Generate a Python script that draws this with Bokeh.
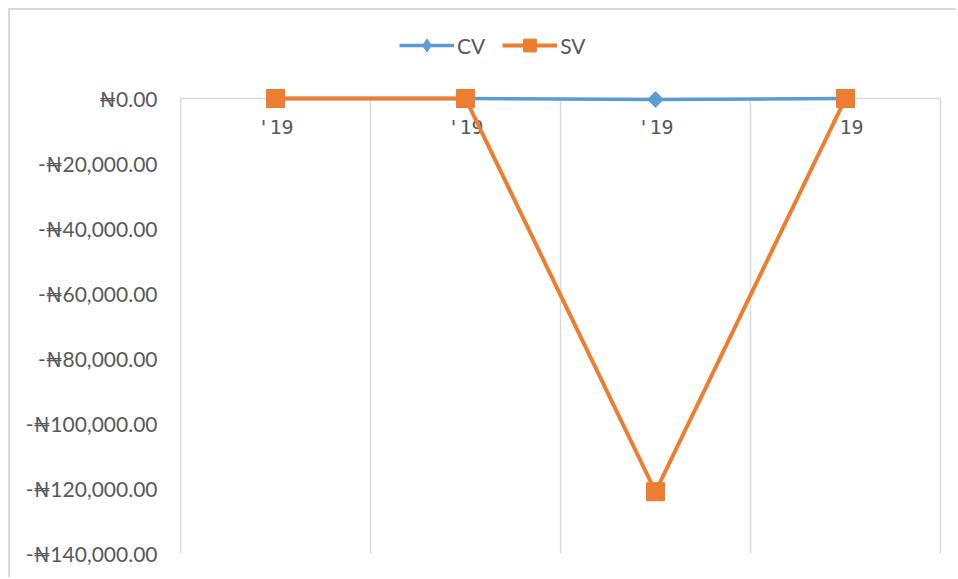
import numpy as np
from bokeh.plotting import figure
from bokeh.models import (FixedTicker, Legend, LegendItem, Range1d, ColumnDataSource)
from bokeh.embed import file_html
from bokeh.resources import INLINE

# ---- data ----
categories = ["'19", "'19", "'19", "'19"]
cv_values = [0, 0, -300, 0]
sv_values = [0, 0, -121000, 0]
y_tick_values = [0, -20000, -40000, -60000, -80000, -100000, -120000, -140000]
y_tick_labels = ["₦0.00", "-₦20,000.00", "-₦40,000.00", "-₦60,000.00",
                 "-₦80,000.00", "-₦100,000.00", "-₦120,000.00", "-₦140,000.00"]

# ---- layout ----
OFF = 10                      # chart-area border offset (margin + border)
W, H = 958 - OFF, 579 - OFF
zero_px, bottom_px = 98 - OFF, 553 - OFF
frame_top = 20 - OFF
pad_px = zero_px - frame_top
y_min = y_tick_values[-1]
y_max = (0 - y_min) * pad_px / (bottom_px - zero_px)
n = len(categories)
unit_px = 760 / n
x_pad = 1 / unit_px

TEXT = "#595959"
GRID = "#d9d9d9"
BLUE = "#5B9BD5"
ORANGE = "#ED7D31"

xs = [i + 0.5 for i in range(n)]
src = ColumnDataSource(dict(x=xs, cv=cv_values, sv=sv_values))

p = figure(width=W, height=H, output_backend="svg", toolbar_location=None,
           x_range=Range1d(-x_pad, n + x_pad), y_range=Range1d(y_min, y_max),
           min_border_left=179 - OFF, min_border_right=958 - 941,
           min_border_top=frame_top, min_border_bottom=H - bottom_px)
p.styles = {"margin-left": "8px", "margin-top": "8px",
            "border-left": "2px solid #d9d9d9", "border-top": "2px solid #d9d9d9"}
p.outline_line_color = None
p.background_fill_color = "white"
p.border_fill_color = "white"
p.xgrid.grid_line_color = None
p.ygrid.grid_line_color = None

# vertical category boundary gridlines
bounds = list(range(n + 1))
gsrc = ColumnDataSource(dict(x=bounds, y0=[0] * len(bounds), y1=[y_min] * len(bounds)))
g = p.segment(x0="x", x1="x", y0="y0", y1="y1", source=gsrc,
              line_color=GRID, line_width=1.5)
g.level = "underlay"

# x axis at zero
xa = p.xaxis[0]
xa.fixed_location = 0
xa.level = "underlay"
xa.bounds = (0, n)
xa.ticker = FixedTicker(ticks=xs)
xa.major_label_overrides = {x: c for x, c in zip(xs, categories)}
xa.axis_line_color = GRID
xa.axis_line_width = 1.5
xa.major_tick_line_color = None
xa.minor_tick_line_color = None
xa.major_label_standoff = 10
xa.major_label_text_font = "DejaVu Sans Mono"
xa.major_label_text_font_size = "20px"
xa.major_label_text_color = TEXT

ya = p.yaxis[0]
ya.ticker = FixedTicker(ticks=y_tick_values)
ya.major_label_overrides = {v: l for v, l in zip(y_tick_values, y_tick_labels)}
ya.axis_line_color = None
ya.major_tick_line_color = None
ya.minor_tick_line_color = None
ya.major_label_standoff = 16
ya.major_label_text_font = "Lato"
ya.major_label_text_font_size = "21px"
ya.major_label_text_color = TEXT

# series
cv_line = p.line("x", "cv", source=src, line_color=BLUE, line_width=3.5)
cv_leg = p.scatter("x", "cv", source=src, marker="diamond", size=15,
                   fill_color=BLUE, line_color=BLUE)
cv_pts = p.scatter("x", "cv", source=src, marker="square", angle=np.pi / 4,
                   size=11, fill_color=BLUE, line_color=BLUE)
sv_line = p.line("x", "sv", source=src, line_color=ORANGE, line_width=4)
sv_pts = p.scatter("x", "sv", source=src, marker="square", size=18,
                   fill_color=ORANGE, line_color=ORANGE)

legend = Legend(items=[LegendItem(label="CV", renderers=[cv_line, cv_leg]),
                       LegendItem(label="SV", renderers=[sv_line, sv_pts])],
                orientation="horizontal", location=(220, 492))
legend.glyph_width = 55
legend.glyph_height = 32
legend.label_standoff = 3
legend.spacing = 17
legend.padding = 0
legend.margin = 0
legend.border_line_color = None
legend.background_fill_alpha = 0
legend.label_text_font = "Lato"
legend.label_text_font_size = "21px"
legend.label_text_color = TEXT
p.add_layout(legend, "center")

open("out.html", "w").write(file_html(p, INLINE))
